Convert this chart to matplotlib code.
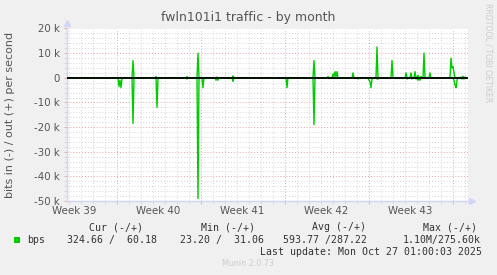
import numpy as np
import matplotlib
matplotlib.use("Agg")
from matplotlib import pyplot as plt
from matplotlib.ticker import MultipleLocator, FixedLocator
from matplotlib.transforms import blended_transform_factory

# time in hours since start of graph (2 h per pixel, month view)
hours = [0, 102, 104, 106, 108, 110, 130, 132, 134, 176, 178, 180, 182,
         238, 240, 242, 260, 262, 264, 270, 272, 274, 296, 298, 300, 302, 304,
         330, 332, 334, 438, 440, 442, 492, 494, 496, 520, 522, 524,
         530, 532, 534, 536, 538, 540, 542, 570, 572, 574, 580, 582, 584,
         602, 604, 606, 608, 610, 612, 618, 620, 622, 624, 648, 650, 652,
         676, 678, 680, 682, 686, 688, 690, 692, 694, 696, 698, 700, 702,
         704, 706, 708, 710, 712, 714, 716, 724, 726, 728, 766, 768, 770,
         772, 774, 776, 778, 780, 782, 786, 788, 790, 792, 794, 796, 798]
# out (+) in kbit/s
out_k = [0, 0, 0, 0, 0, 0, 0, 7, 0, 0, 0.5, 0, 0,
         0, 0.5, 0, 0, 10, 0, 0, 0, 0, 0, 0, 0.3, 0, 0,
         0, 0.8, 0, 0, 0, 0, 0, 7, 0, 0, 0.5, 0,
         0, 1.5, 0.5, 2.5, 0.5, 2.5, 0, 0, 2, 0, 0, 0, 0,
         0, 0, 0, 0, 0, 0, 0, 12.5, 0, 0, 0, 7, 0,
         0, 2, 0, 0, 0, 2, 0, 0, 0, 2.5, 0, 0, 1,
         0.3, 0, 0.5, 0, 0, 10, 0, 0, 2, 0, 0, 8, 4,
         4.5, 2, 0, 0, 0, 0, 0, 0.3, 0, 0.6, 0, 0.3, 0]
# in (-) in kbit/s
in_k = [0, 0, 3.5, 1, 4, 0, 0, 18.5, 0, 0, 0, 12, 0,
        0, 0.5, 0, 0, 49, 0, 0, 4, 0, 0, 1, 0.3, 1, 0,
        0, 1.5, 0, 0, 4, 0, 0, 19, 0, 0, 0, 0,
        0, 0, 0, 0.3, 0, 0.3, 0, 0, 0, 0, 0, 0.5, 0,
        0, 1, 1.5, 4, 0.5, 0, 0, 0.5, 0.5, 0, 0, 0, 0,
        0, 0, 0.5, 0, 0, 0, 0.5, 0, 0, 0, 0.5, 0, 1,
        0, 1, 0, 0, 0, 0, 0, 0, 0, 0, 0, 0, 0,
        0, 1, 3, 4, 1, 0, 0, 0, 0.5, 0, 0.5, 0, 0]

week_start = [99, 267, 435, 603, 771]
week_labels = ["Week 39", "Week 40", "Week 41", "Week 42", "Week 43"]
yticks = [20000, 10000, 0, -10000, -20000, -30000, -40000, -50000]
ytick_labels = ["20 k", "10 k", "0", "-10 k", "-20 k", "-30 k", "-40 k", "-50 k"]

heads = ["Cur (-/+)", "Min (-/+)", "Avg (-/+)", "Max (-/+)"]
vals = ["324.66 /  60.18", "23.20 /  31.06", "593.77 /287.22", "1.10M/275.60k"]

W, H = 497, 275
fig = plt.figure(figsize=(W / 100, H / 100), dpi=100, facecolor="#f0f0f0")
ax = fig.add_axes([67 / W, 1 - 201 / H, 401 / W, 172.5 / H], facecolor="white")

t = np.array(hours)
ax.plot(t, np.array(out_k) * 1000, color="#00cc00", lw=1.0, zorder=3)
ax.plot(t, -np.array(in_k) * 1000, color="#00cc00", lw=1.0, zorder=3)
ax.axhline(0, color="black", lw=1.3, zorder=4)

ax.set_xlim(0, 802)
ax.set_ylim(-50000, 20000)

ax.xaxis.set_major_locator(FixedLocator(week_start))
ax.xaxis.set_minor_locator(FixedLocator(np.arange(3, 802, 24)))
ax.set_xticklabels([])
ax.set_yticks(yticks)
ax.set_yticklabels(ytick_labels)
ax.yaxis.set_minor_locator(MultipleLocator(2000))

dots = (0, (1, 2))
ax.grid(which="minor", color="#d4d4d4", lw=0.7, linestyle=dots)
ax.grid(which="major", color="#eaa0a0", lw=0.7, linestyle=dots)
ax.set_axisbelow(True)

for s in ["top", "right"]:
    ax.spines[s].set_visible(False)
for s in ["left", "bottom"]:
    ax.spines[s].set_color("#cfd6f8")
    ax.spines[s].set_linewidth(1.0)
ax.plot(0, 1.03, marker="^", color="#cfd6f8", ms=4, transform=ax.transAxes, clip_on=False)
ax.plot(1.01, 0, marker=">", color="#cfd6f8", ms=4, transform=ax.transAxes, clip_on=False)

ax.tick_params(which="both", length=2, width=0.6, labelsize=7.4, labelcolor="#555555", pad=3)
ax.tick_params(which="major", color="#eaa0a0")
ax.tick_params(which="minor", color="#d4d4d4")

trans = blended_transform_factory(ax.transData, ax.transAxes)
for ws, lab in zip(week_start, week_labels):
    ax.text(ws - 84, -0.03, lab, transform=trans, ha="center", va="top",
            fontsize=7.4, color="#555555")

fig.text(248.5 / W, 1 - 18 / H, "fwln101i1 traffic - by month", ha="center", va="center",
         fontsize=9, color="#555555")
fig.text(10 / W, 1 - 115 / H, "bits in (-) / out (+) per second", rotation=90,
         ha="center", va="center", fontsize=8, color="#555555")
fig.text(488 / W, 1 - 53 / H, "RRDTOOL / TOBI OETIKER", rotation=270,
         ha="center", va="center", fontsize=5.6, color="#cccccc")

mono = "DejaVu Sans Mono"
fs = 7.1
hx = [89, 201, 312, 423]
vx = [67, 180, 283, 403]
for x, h in zip(hx, heads):
    fig.text(x / W, 1 - 227 / H, h, ha="left", va="center", family=mono, fontsize=fs, color="#333333")
for x, v in zip(vx, vals):
    fig.text(x / W, 1 - 240 / H, v, ha="left", va="center", family=mono, fontsize=fs, color="#333333")
fig.text(27 / W, 1 - 240 / H, "bps", ha="left", va="center", family=mono, fontsize=fs, color="#333333")
fig.patches.append(plt.Rectangle((14 / W, 1 - 243 / H), 6 / W, 6 / H, transform=fig.transFigure,
                                 facecolor="#00cc00", edgecolor="none"))
fig.text(482 / W, 1 - 252 / H, "Last update: Mon Oct 27 01:00:03 2025", ha="right", va="center",
         family=mono, fontsize=fs, color="#333333")
fig.text(248 / W, 1 - 263 / H, "Munin 2.0.73", ha="center", va="center", fontsize=5.8, color="#cccccc")

fig.savefig("out.png", dpi=100, facecolor=fig.get_facecolor())
